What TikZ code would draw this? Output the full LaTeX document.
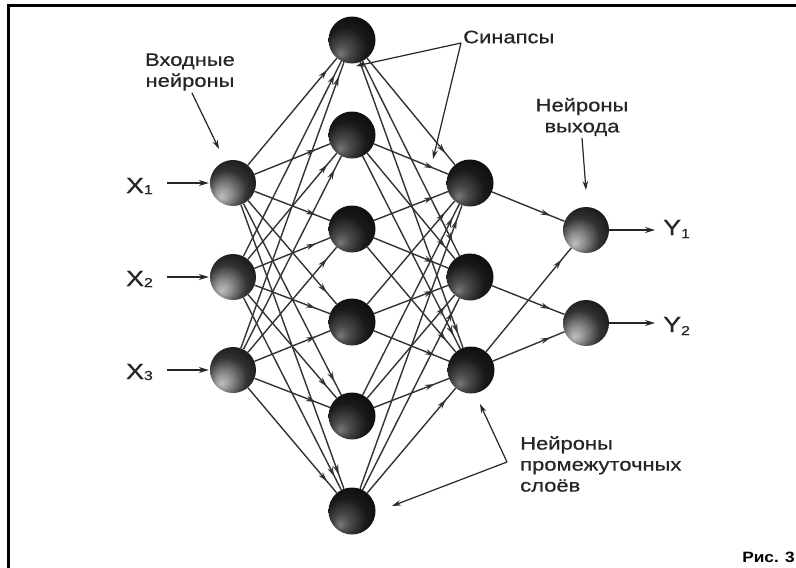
\documentclass[tikz,border=0pt]{standalone}
\usepackage{fontspec}
\usetikzlibrary{arrows.meta,decorations.markings}
\newfontfamily\lab[FakeStretch=1.22,FakeBold=0.6]{Liberation Sans}
\newfontfamily\capfont[FakeStretch=1.15]{Liberation Sans}
\pgfdeclareradialshading{sphlight}{\pgfpoint{-13bp}{-15bp}}{color(0bp)=(black!25); color(8bp)=(black!42); color(22bp)=(black!80); color(38bp)=(black!95); color(50bp)=(black)}
\pgfdeclareradialshading{sphdark}{\pgfpoint{-13bp}{-15bp}}{color(0bp)=(black!52); color(8bp)=(black!70); color(22bp)=(black!90); color(38bp)=(black!97); color(50bp)=(black)}
\begin{document}
\begin{tikzpicture}[x=1pt,y=-1pt,
  neuL/.style={circle, minimum size=46pt, inner sep=0pt, shade, shading=sphlight},
  neuD/.style={circle, minimum size=47pt, inner sep=0pt, shade, shading=sphdark},
  conn/.style={draw=black!80, line width=1.4pt, postaction={decorate},
    decoration={markings, mark=at position -15pt with {\arrow{Stealth[length=10pt,width=5.5pt]}}}},
  lbl/.style={font=\lab\fontsize{18}{21}\selectfont, text=black!85, inner sep=0pt},
  io/.style={font=\lab\fontsize{22}{24}\selectfont, text=black!85, inner sep=0pt},
  ptr/.style={draw=black!85, line width=1.2pt, -{Stealth[length=9pt,width=5.5pt]}},
  inarr/.style={draw=black!85, line width=1.4pt, -{Stealth[length=10pt,width=6pt]}}
]
\useasboundingbox (0,0) rectangle (796,568);
\fill[white] (0,0) rectangle (796,568);
% frame
\draw[line width=2.5pt] (8.5,572) -- (8.5,5.5) -- (800,5.5);

% neurons
\node[neuL] (i1) at (233,183) {};
\node[neuL] (i2) at (233,277) {};
\node[neuL] (i3) at (233,370) {};
\node[neuD] (h1) at (352,40) {};
\node[neuD] (h2) at (352,135) {};
\node[neuD] (h3) at (352,229) {};
\node[neuD] (h4) at (352,322) {};
\node[neuD] (h5) at (352,416) {};
\node[neuD] (h6) at (352,511) {};
\node[neuD] (g1) at (470,183) {};
\node[neuD] (g2) at (470,277) {};
\node[neuD] (g3) at (471,370) {};
\node[neuL] (o1) at (586,230) {};
\node[neuL] (o2) at (586,323) {};

% synapses
\foreach \i in {1,2,3}
  \foreach \h in {1,...,6}
    \draw[conn] (i\i) -- (h\h);
\foreach \h in {1,...,6}
  \foreach \g in {1,2,3}
    \draw[conn] (h\h) -- (g\g);
\draw[conn] (g1) -- (o1);
\draw[conn] (g2) -- (o2);
\draw[conn] (g3) -- (o1);
\draw[conn] (g3) -- (o2);

% inputs / outputs
\node[io, anchor=east] (x1l) at (153,186) {X\raisebox{-1pt}{\fontsize{13}{13}\selectfont 1}};
\node[io, anchor=east] (x2l) at (153,279) {X\raisebox{-1pt}{\fontsize{13}{13}\selectfont 2}};
\node[io, anchor=east] (x3l) at (153,372) {X\raisebox{-1pt}{\fontsize{13}{13}\selectfont 3}};
\draw[inarr, shorten <=14pt, shorten >=1pt] (i1.west -| x1l.east) -- (i1.west);
\draw[inarr, shorten <=14pt, shorten >=1pt] (i2.west -| x2l.east) -- (i2.west);
\draw[inarr, shorten <=14pt, shorten >=1pt] (i3.west -| x3l.east) -- (i3.west);
\node[io, anchor=west] (y1l) at (663,229) {Y\raisebox{-3pt}{\fontsize{13}{13}\selectfont 1}};
\node[io, anchor=west] (y2l) at (663,326) {Y\raisebox{-3pt}{\fontsize{13}{13}\selectfont 2}};
\draw[inarr, shorten >=8pt] (o1.east) -- (o1.east -| y1l.west);
\draw[inarr, shorten >=8pt] (o2.east) -- (o2.east -| y2l.west);

% labels
\node[lbl, align=center] (inlab) at (190,72) {Входные\\нейроны};
\coordinate (inA) at (192,93);
\coordinate (inB) at (219,149);
\draw[ptr] (inA) -- (inB);

\node[lbl, anchor=west] (synlab) at (463,37) {Синапсы};
\coordinate (syn) at (461,43);
\coordinate (synA) at (356,66);
\coordinate (synB) at (433,159);
\draw[ptr] (syn) -- (synA);
\draw[ptr] (syn) -- (synB);

\node[lbl, align=center] (outlab) at (582,117) {Нейроны\\выхода};
\coordinate (outA) at (582,138);
\draw[ptr] (outA) -- (o1.north |- 0,190);

\node[lbl, align=left, anchor=west] (midlab) at (520,464) {Нейроны\\промежуточных\\слоёв};
\coordinate (midJ) at (507,462);
\coordinate (midA) at (480,404);
\coordinate (midB) at (392,506);
\draw[ptr] (midJ) -- (midA);
\draw[ptr] (midJ) -- (midB);

\node[font=\capfont\bfseries\fontsize{15}{18}\selectfont, anchor=east, inner sep=0pt] (fig) at (795,557) {Рис. 3};
\end{tikzpicture}
\end{document}
